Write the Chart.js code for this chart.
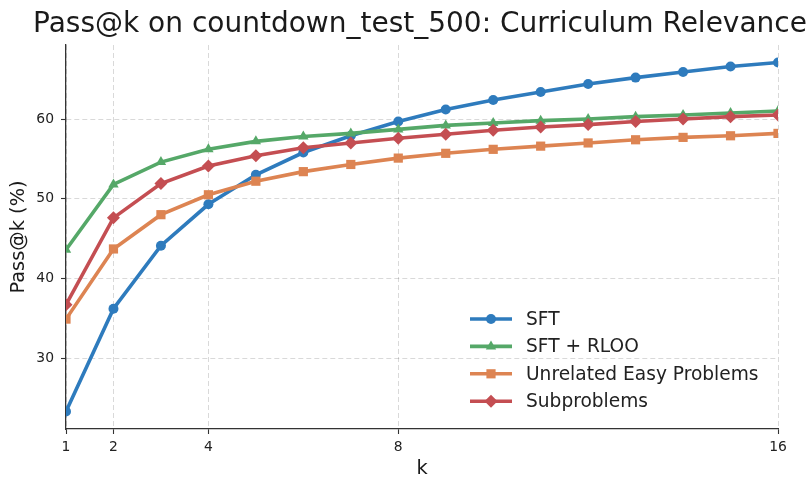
<!DOCTYPE html>
<html>
<head>
<meta charset="utf-8">
<script src="https://cdn.jsdelivr.net/npm/chart.js@4/dist/chart.umd.min.js"></script>
<style>
  html, body { margin: 0; padding: 0; background: #ffffff; }
  #wrap { width: 812px; height: 477px; position: relative; }
</style>
</head>
<body>
<div id="wrap"><canvas id="chart"></canvas></div>
<script>
// Pass@k values (%) for k = 1..16
const kValues = [1, 2, 3, 4, 5, 6, 7, 8, 9, 10, 11, 12, 13, 14, 15, 16];
const sft = [23.3, 36.2, 44.1, 49.3, 53.0, 55.8, 57.9, 59.7, 61.2, 62.4, 63.4, 64.4, 65.2, 65.9, 66.6, 67.1];
const sftRloo = [43.6, 51.8, 54.6, 56.2, 57.2, 57.8, 58.2, 58.7, 59.2, 59.5, 59.8, 60.0, 60.3, 60.5, 60.75, 61.0];
const unrelatedEasy = [34.9, 43.7, 48.0, 50.5, 52.2, 53.4, 54.3, 55.1, 55.7, 56.2, 56.6, 57.0, 57.4, 57.7, 57.9, 58.2];
const subproblems = [36.7, 47.6, 51.9, 54.1, 55.4, 56.4, 57.0, 57.6, 58.1, 58.6, 59.0, 59.3, 59.7, 60.0, 60.3, 60.5];

const seriesLabels = ['SFT', 'SFT + RLOO', 'Unrelated Easy Problems', 'Subproblems'];
const xTicks = [1, 2, 4, 8, 16];
const yTicks = [30, 40, 50, 60];
const chartTitle = 'Pass@k on countdown_test_500: Curriculum Relevance';

const FONT = "'DejaVu Sans', 'Liberation Sans', sans-serif";
const colors = ['#2e7bbd', '#55a868', '#dd8452', '#c44e52'];
const shapes = ['circle', 'triangle', 'rect', 'rectRot'];
const radii = [5, 6, 6.5, 6.5];
const seriesValues = [sft, sftRloo, unrelatedEasy, subproblems];

const datasets = seriesValues.map((vals, i) => ({
  label: seriesLabels[i],
  data: vals.map((v, j) => ({ x: kValues[j], y: v })),
  borderColor: colors[i],
  backgroundColor: colors[i],
  pointBackgroundColor: colors[i],
  pointBorderColor: colors[i],
  pointBorderWidth: 0,
  pointStyle: shapes[i],
  pointRadius: radii[i],
  pointHoverRadius: radii[i],
  borderWidth: 3.6,
  tension: 0,
  clip: 0,
  order: seriesValues.length - i   // later series painted on top
}));

// y-limits with 5% margins around the data
const allVals = seriesValues.flat();
const yMinData = Math.min(...allVals), yMaxData = Math.max(...allVals);
const yPad = (yMaxData - yMinData) * 0.05;

function drawMarker(ctx, shape, x, y, r) {
  ctx.beginPath();
  if (shape === 'circle') {
    ctx.arc(x, y, r, 0, Math.PI * 2);
  } else if (shape === 'triangle') {
    for (let a = 0; a < 3; a++) {
      const ang = a * 2 * Math.PI / 3;
      const px = x + Math.sin(ang) * r, py = y - Math.cos(ang) * r;
      if (a === 0) ctx.moveTo(px, py); else ctx.lineTo(px, py);
    }
    ctx.closePath();
  } else if (shape === 'rect') {
    const s = Math.SQRT1_2 * r;
    ctx.rect(x - s, y - s, 2 * s, 2 * s);
  } else {
    ctx.moveTo(x, y - r); ctx.lineTo(x + r, y); ctx.lineTo(x, y + r); ctx.lineTo(x - r, y);
    ctx.closePath();
  }
  ctx.fill();
}

// Title centred over the plot area (may extend past it on both sides)
const plotTitle = {
  id: 'plotTitle',
  afterDraw(chart) {
    const { ctx, chartArea } = chart;
    ctx.save();
    ctx.fillStyle = '#1a1a1a';
    ctx.font = '28px ' + FONT;
    ctx.textAlign = 'center';
    ctx.textBaseline = 'alphabetic';
    ctx.fillText(chartTitle, (chartArea.left + chartArea.right) / 2 - 2, chartArea.top - 13);
    ctx.restore();
  }
};

// Legend drawn inside the plot, lower right, without a frame
const insideLegend = {
  id: 'insideLegend',
  afterDatasetsDraw(chart) {
    const { ctx, chartArea } = chart;
    const x0 = chartArea.right - 308, x1 = chartArea.right - 266;
    const xm = (x0 + x1) / 2;
    const y0 = chartArea.bottom - 110, dy = 27.4;
    ctx.save();
    chart.data.datasets.forEach((ds, i) => {
      const y = y0 + i * dy;
      ctx.strokeStyle = ds.borderColor;
      ctx.lineWidth = ds.borderWidth;
      ctx.beginPath(); ctx.moveTo(x0, y); ctx.lineTo(x1, y); ctx.stroke();
      ctx.fillStyle = ds.pointBackgroundColor;
      drawMarker(ctx, ds.pointStyle, xm, y, ds.pointRadius);
      ctx.fillStyle = '#222222';
      ctx.font = '18.6px ' + FONT;
      ctx.textAlign = 'left';
      ctx.textBaseline = 'middle';
      ctx.fillText(ds.label, x1 + 14, y + 1);
    });
    ctx.restore();
  }
};

const gridStyle = {
  color: 'rgba(0,0,0,0.15)',
  lineWidth: 1,
  drawTicks: true,
  tickLength: 5,
  tickColor: '#333333',
  tickWidth: 1.1,
  tickBorderDash: []
};
const borderStyle = { display: true, color: '#333333', width: 1.3, dash: [5, 3] };

new Chart(document.getElementById('chart'), {
  type: 'line',
  data: { datasets },
  options: {
    responsive: true,
    maintainAspectRatio: false,
    animation: false,
    events: [],
    layout: { padding: { top: 45, right: 34, bottom: 0, left: 0 } },
    plugins: {
      legend: { display: false },
      tooltip: { enabled: false },
      title: { display: false }
    },
    scales: {
      x: {
        type: 'linear',
        min: 1, max: 16,
        afterBuildTicks(scale) { scale.ticks = xTicks.map(v => ({ value: v })); },
        afterFit(scale) { scale.height = 48; },
        ticks: {
          color: '#222222',
          font: { family: FONT, size: 13.9 },
          padding: 5,
          maxRotation: 0,
          autoSkip: false
        },
        grid: gridStyle,
        border: borderStyle,
        title: {
          display: true,
          text: 'k',
          color: '#1a1a1a',
          font: { family: FONT, size: 19.4, lineHeight: 1 },
          padding: { top: 0, bottom: -2 }
        }
      },
      y: {
        type: 'linear',
        min: yMinData - yPad,
        max: yMaxData + yPad,
        afterBuildTicks(scale) { scale.ticks = yTicks.map(v => ({ value: v })); },
        afterFit(scale) { scale.width = 66; },
        ticks: {
          color: '#222222',
          font: { family: FONT, size: 13.9 },
          padding: 7
        },
        grid: gridStyle,
        border: borderStyle,
        title: {
          display: true,
          text: 'Pass@k (%)',
          color: '#1a1a1a',
          font: { family: FONT, size: 19.4, lineHeight: 1.2 },
          padding: { top: 7, bottom: 0 }
        }
      }
    }
  },
  plugins: [insideLegend, plotTitle]
});
</script>
</body>
</html>
